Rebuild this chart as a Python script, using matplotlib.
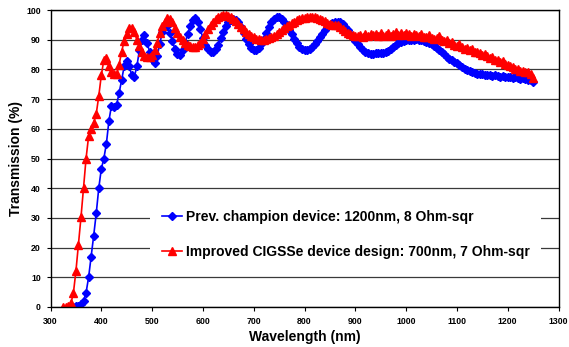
import matplotlib
matplotlib.use("Agg")
import matplotlib.pyplot as plt
import numpy as np

plt.rcParams.update({
    "font.family": "Liberation Sans",
    "font.weight": "bold",
    "axes.labelweight": "bold",
})

# wavelength grid of the spectrometer (5 nm steps)
WL_RED = np.arange(325, 1251, 5)
WL_BLUE = np.arange(340, 1251, 5)

# Improved CIGSSe device design: 700nm, 7 Ohm-sqr
T_RED = [
    0.0, 0.0, 0.2, 1.2, 4.6, 12.0, 21.0, 30.2, 40.0, 50.0, 57.5, 60.0, 62.0, 65.0, 71.0, 78.0, 83.2, 84.0, 81.0, 79.0,
    78.5, 78.5, 81.5, 86.0, 89.5, 91.8, 93.8, 94.0, 92.5, 90.0, 88.0, 86.0, 84.5, 84.2, 84.3, 85.0, 86.5, 89.0, 92.3, 94.5,
    96.0, 97.2, 97.0, 95.8, 94.0, 92.3, 91.0, 90.0, 89.0, 88.2, 87.8, 87.5, 87.6, 88.2, 89.0, 90.2, 91.8, 93.5, 94.8, 96.0,
    97.0, 97.6, 98.0, 98.2, 98.3, 98.0, 97.6, 97.0, 96.2, 95.3, 94.4, 93.5, 92.6, 91.8, 91.2, 90.8, 90.4, 90.2, 90.0, 90.0,
    90.2, 90.5, 90.9, 91.3, 91.8, 92.5, 93.2, 93.8, 94.5, 95.0, 95.6, 96.1, 96.6, 96.9, 97.2, 97.4, 97.6, 97.7, 97.7, 97.5,
    97.3, 97.0, 96.6, 96.2, 95.7, 95.3, 95.0, 94.8, 94.8, 94.3, 93.6, 93.0, 92.4, 92.0, 91.6, 91.3, 91.2, 91.6, 91.0, 91.8,
    91.2, 92.0, 91.5, 91.8, 91.3, 92.3, 91.2, 91.5, 92.2, 91.4, 91.8, 92.5, 91.6, 92.1, 91.5, 92.3, 91.8, 91.4, 92.0, 91.5,
    91.2, 91.8, 91.0, 90.8, 91.5, 90.5, 90.2, 90.6, 91.3, 90.0, 89.6, 89.8, 88.9, 89.2, 88.3, 88.0, 88.4, 87.4, 87.0, 87.3,
    86.5, 86.8, 86.0, 85.8, 85.5, 85.0, 85.3, 84.4, 84.0, 84.2, 83.3, 83.0, 82.5, 82.8, 81.8, 81.5, 81.0, 80.8, 80.2, 80.0,
    79.6, 79.5, 79.0, 79.2, 78.6, 77.0,
]

# Prev. champion device: 1200nm, 8 Ohm-sqr
T_BLUE = [
    0.0, 0.0, 0.2, 0.5, 1.0, 2.0, 4.8, 10.0, 17.0, 24.0, 31.5, 40.0, 46.5, 50.0, 55.0, 62.7, 67.8, 67.5, 68.0, 72.0,
    76.4, 81.0, 82.8, 81.0, 78.0, 77.5, 81.0, 86.5, 90.0, 91.6, 89.0, 86.0, 83.5, 82.3, 84.5, 88.5, 92.5, 94.8, 94.5, 92.2,
    89.5, 86.8, 85.3, 85.0, 86.5, 89.0, 92.0, 94.5, 96.5, 97.2, 96.0, 93.5, 90.5, 88.3, 86.8, 86.0, 86.0, 86.8, 88.2, 90.5,
    92.5, 94.5, 95.8, 96.6, 96.9, 96.7, 96.0, 94.3, 92.3, 90.3, 88.5, 87.2, 86.6, 86.6, 87.3, 88.5, 90.3, 92.3, 94.2, 95.8,
    97.0, 97.6, 97.6, 97.0, 96.0, 94.8, 93.3, 91.8, 90.2, 88.8, 87.7, 86.9, 86.5, 86.5, 86.8, 87.5, 88.4, 89.5, 90.8, 92.0,
    93.2, 94.2, 95.0, 95.6, 96.0, 96.0, 95.8, 95.2, 94.3, 93.2, 92.0, 90.8, 89.6, 88.5, 87.5, 86.7, 86.0, 85.5, 85.3, 85.3,
    85.4, 85.5, 85.5, 85.6, 85.8, 86.2, 86.8, 87.5, 88.2, 88.8, 89.3, 89.6, 89.8, 90.0, 90.0, 90.0, 90.1, 90.0, 89.9, 89.6,
    89.3, 88.9, 88.4, 87.9, 87.3, 86.6, 85.9, 85.1, 84.3, 83.6, 83.0, 82.5, 82.0, 81.4, 80.8, 80.2, 79.7, 79.3, 79.0, 78.8,
    78.6, 78.4, 78.3, 78.1, 78.0, 78.2, 77.9, 78.0, 77.8, 77.6, 77.9, 77.6, 77.4, 77.5, 77.2, 77.3, 77.0, 76.9, 77.0, 76.6,
    76.5, 76.3, 75.8,
]

LABEL_BLUE = "Prev. champion device: 1200nm, 8 Ohm-sqr"
LABEL_RED = "Improved CIGSSe device design: 700nm, 7 Ohm-sqr"

fig = plt.figure(figsize=(5.69, 3.47), dpi=100)
ax = fig.add_axes([50.5 / 569, 40 / 347, 508 / 569, 297 / 347])

ax.set_axisbelow(True)
ax.yaxis.grid(True, color="#3a3a3a", lw=0.9)

ax.plot(WL_BLUE, T_BLUE, "-D", color="#0000ff", lw=1.2, ms=4.5,
        mec="#0000ff", label=LABEL_BLUE)
ax.plot(WL_RED, T_RED, "-^", color="#ff0000", lw=1.2, ms=5.5,
        mec="#ff0000", label=LABEL_RED)

ax.set_xlim(300, 1300)
ax.set_ylim(0, 100)
ax.set_xticks(range(300, 1301, 100))
ax.set_yticks(range(0, 101, 10))
ax.tick_params(labelsize=6.3, length=3, width=0.8, pad=4, direction="out")
for lab in ax.get_xticklabels() + ax.get_yticklabels():
    lab.set_fontweight("bold")
for s in ax.spines.values():
    s.set_linewidth(1.0)
    s.set_color("black")

ax.set_xlabel("Wavelength (nm)", fontsize=10, labelpad=3)
ax.set_ylabel("Transmission (%)", fontsize=10, labelpad=2)

leg = ax.legend(loc="center", bbox_to_anchor=(0.581, 0.244), fontsize=10,
                frameon=True, fancybox=False, edgecolor="none",
                facecolor="white", framealpha=1.0, numpoints=1,
                handlelength=1.45, handletextpad=0.25, labelspacing=1.5,
                borderpad=0.85)
for t in leg.get_texts():
    t.set_fontweight("bold")

fig.savefig("out.png", dpi=100)
